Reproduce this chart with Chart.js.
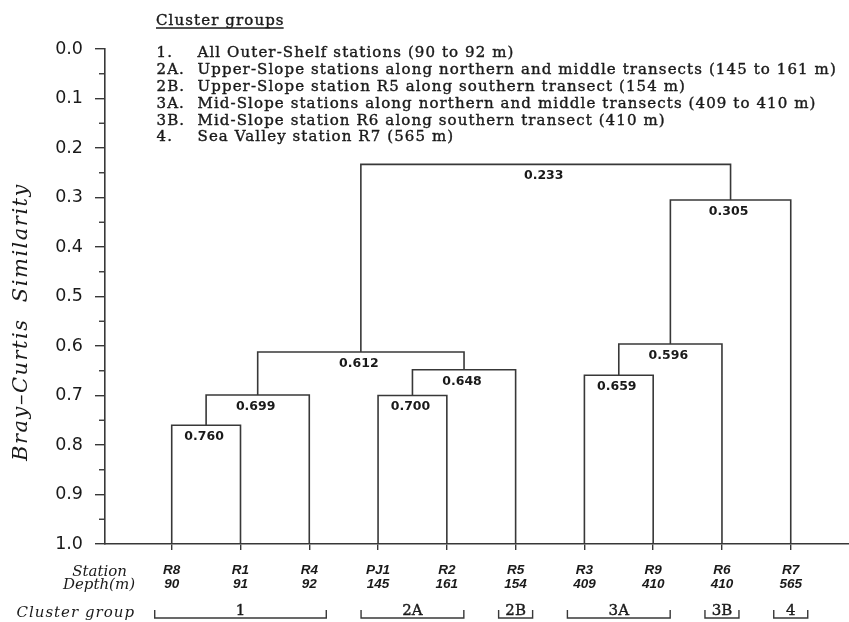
<!DOCTYPE html>
<html>
<head>
<meta charset="utf-8">
<script src="https://cdn.jsdelivr.net/npm/chart.js@4.4.1/dist/chart.umd.min.js"></script>
<style>
  html, body { margin: 0; padding: 0; background: #ffffff; }
  #wrap { width: 849px; height: 622px; position: relative; }
</style>
</head>
<body>
<div id="wrap"><canvas id="c" width="849" height="622"></canvas></div>
<script>
// Stations along the bottom, in dendrogram leaf order
const stations = ['R8', 'R1', 'R4', 'PJ1', 'R2', 'R5', 'R3', 'R9', 'R6', 'R7'];
const depths = ['90', '91', '92', '145', '161', '154', '409', '410', '410', '565'];

// Agglomeration steps: nodes 0-9 are stations, step k creates node 10 + k
const mergeLeft = [0, 10, 3, 12, 11, 6, 15, 16, 14];
const mergeRight = [1, 2, 4, 5, 13, 7, 8, 9, 17];
const mergeSimilarity = [0.760, 0.699, 0.700, 0.648, 0.612, 0.659, 0.596, 0.305, 0.233];

// Cluster groups (first / last station index of each bracket)
const groupCodes = ['1', '2A', '2B', '3A', '3B', '4'];
const groupFirst = [0, 3, 5, 6, 8, 9];
const groupLast = [2, 4, 5, 7, 8, 9];
const groupNotes = [
  'All Outer-Shelf stations (90 to 92 m)',
  'Upper-Slope stations along northern and middle transects (145 to 161 m)',
  'Upper-Slope station R5 along southern transect (154 m)',
  'Mid-Slope stations along northern and middle transects (409 to 410 m)',
  'Mid-Slope station R6 along southern transect (410 m)',
  'Sea Valley station R7 (565 m)'
];
const groupListCodes = ['1.', '2A.', '2B.', '3A.', '3B.', '4.'];

const yTickLabels = ['0.0', '0.1', '0.2', '0.3', '0.4', '0.5', '0.6', '0.7', '0.8', '0.9', '1.0'];

const INK = '#1a1a1a';
const LINE = '#383838';

// Node positions: leaves sit at their index on the baseline (similarity 1.0),
// each merged node sits midway between its two children.
const nodeX = stations.map((_, i) => i);
const nodeY = stations.map(() => 1.0);
mergeLeft.forEach((l, k) => {
  const r = mergeRight[k];
  nodeX.push((nodeX[l] + nodeX[r]) / 2);
  nodeY.push(mergeSimilarity[k]);
});

const datasets = mergeLeft.map((l, k) => {
  const r = mergeRight[k];
  const h = mergeSimilarity[k];
  return {
    data: [
      { x: nodeX[l], y: nodeY[l] },
      { x: nodeX[l], y: h },
      { x: nodeX[r], y: h },
      { x: nodeX[r], y: nodeY[r] }
    ],
    borderColor: LINE,
    borderWidth: 1.6,
    pointRadius: 0,
    fill: false,
    tension: 0,
    showLine: true
  };
});

// heavier text: fill plus a hairline stroke in the same colour
function inkText(ctx, text, x, y, weight) {
  ctx.fillText(text, x, y);
  if (weight) {
    ctx.lineWidth = weight;
    ctx.strokeStyle = INK;
    ctx.strokeText(text, x, y);
  }
}

const decorations = {
  id: 'decorations',
  afterDraw(chart) {
    const ctx = chart.ctx;
    const xs = chart.scales.x;
    const ys = chart.scales.y;
    ctx.save();

    // minor ticks on the similarity axis
    ctx.strokeStyle = LINE;
    ctx.lineWidth = 1.4;
    for (let i = 1; i < 20; i += 2) {
      const y = ys.getPixelForValue(i * 0.05);
      ctx.beginPath();
      ctx.moveTo(ys.right - 6, y);
      ctx.lineTo(ys.right, y);
      ctx.stroke();
    }

    // similarity value under each junction
    ctx.fillStyle = INK;
    ctx.font = 'bold 12.5px "DejaVu Sans"';
    ctx.textAlign = 'center';
    ctx.textBaseline = 'middle';
    mergeSimilarity.forEach((h, k) => {
      const px = xs.getPixelForValue(nodeX[10 + k]) - 2;
      const py = ys.getPixelForValue(h) + 11.5;
      ctx.fillText(h.toFixed(3), px, py);
    });

    // axis title
    ctx.save();
    ctx.translate(27, 322);
    ctx.rotate(-Math.PI / 2);
    ctx.font = 'italic 21px "DejaVu Serif"';
    ctx.letterSpacing = '1.5px';
    ctx.textAlign = 'center';
    ctx.textBaseline = 'alphabetic';
    ctx.fillText('Bray\u2013Curtis  Similarity', 0, 0);
    ctx.restore();

    // row captions under the axis
    ctx.font = 'italic 15px "DejaVu Serif"';
    ctx.textAlign = 'right';
    ctx.textBaseline = 'middle';
    ctx.fillText('Station', 127, 572);
    ctx.fillText('Depth(m)', 135, 585);
    ctx.letterSpacing = '1px';
    ctx.fillText('Cluster group', 135, 613);
    ctx.letterSpacing = '0px';

    // cluster group brackets
    ctx.font = '15px "DejaVu Serif"';
    ctx.textAlign = 'center';
    groupCodes.forEach((code, g) => {
      const x1 = xs.getPixelForValue(groupFirst[g]) - 17;
      const x2 = xs.getPixelForValue(groupLast[g]) + 17;
      ctx.strokeStyle = LINE;
      ctx.lineWidth = 1.4;
      ctx.beginPath();
      ctx.moveTo(x1, 610);
      ctx.lineTo(x1, 618);
      ctx.lineTo(x2, 618);
      ctx.lineTo(x2, 610);
      ctx.stroke();
      inkText(ctx, code, (x1 + x2) / 2, 611, 0.4);
    });

    // cluster group key
    ctx.textAlign = 'left';
    ctx.font = '15px "DejaVu Serif"';
    ctx.letterSpacing = '1.1px';
    inkText(ctx, 'Cluster groups', 156, 21, 0.4);
    const w = ctx.measureText('Cluster groups').width - 1;
    ctx.strokeStyle = INK;
    ctx.lineWidth = 1.3;
    ctx.beginPath();
    ctx.moveTo(156, 28);
    ctx.lineTo(156 + w, 28);
    ctx.stroke();
    groupNotes.forEach((note, g) => {
      const y = 53.5 + g * 16.8;
      inkText(ctx, groupListCodes[g], 156.5, y, 0.4);
      inkText(ctx, note, 197.5, y, 0.4);
    });

    ctx.restore();
  }
};

new Chart(document.getElementById('c'), {
  type: 'line',
  data: { datasets },
  options: {
    responsive: false,
    animation: false,
    layout: { padding: { top: 49, left: 0, right: 0, bottom: 0 } },
    plugins: { legend: { display: false }, tooltip: { enabled: false } },
    scales: {
      x: {
        type: 'linear',
        min: -0.970,
        max: 9.847,
        afterBuildTicks: (s) => { s.ticks = stations.map((_, i) => ({ value: i })); },
        afterFit: (s) => { s.height = 78; },
        ticks: {
          callback: (v) => [stations[v], depths[v]],
          font: { family: 'Liberation Sans', style: 'italic', weight: 'bold', size: 13.5, lineHeight: 1.0 },
          color: INK,
          padding: 14,
          maxRotation: 0,
          autoSkip: false
        },
        grid: { drawOnChartArea: false, drawTicks: true, tickLength: 6, color: LINE, lineWidth: 1.4 },
        border: { display: true, color: LINE, width: 1.6 }
      },
      y: {
        type: 'linear',
        min: 0,
        max: 1,
        reverse: true,
        afterBuildTicks: (s) => {
          const t = [];
          for (let i = 0; i <= 20; i++) t.push({ value: i * 0.05 });
          s.ticks = t;
        },
        afterFit: (s) => { s.width = 105; },
        ticks: {
          callback: (v, i) => (i % 2 === 0 ? yTickLabels[i / 2] : ''),
          font: { family: 'DejaVu Sans', size: 17.5 },
          color: INK,
          padding: 12,
          autoSkip: false
        },
        grid: {
          drawOnChartArea: false,
          tickLength: 10,
          lineWidth: 1.4,
          tickColor: (c) => (c.index % 2 === 0 ? LINE : 'rgba(0,0,0,0)')
        },
        border: { display: true, color: LINE, width: 1.6 }
      }
    }
  },
  plugins: [decorations]
});
</script>
</body>
</html>
